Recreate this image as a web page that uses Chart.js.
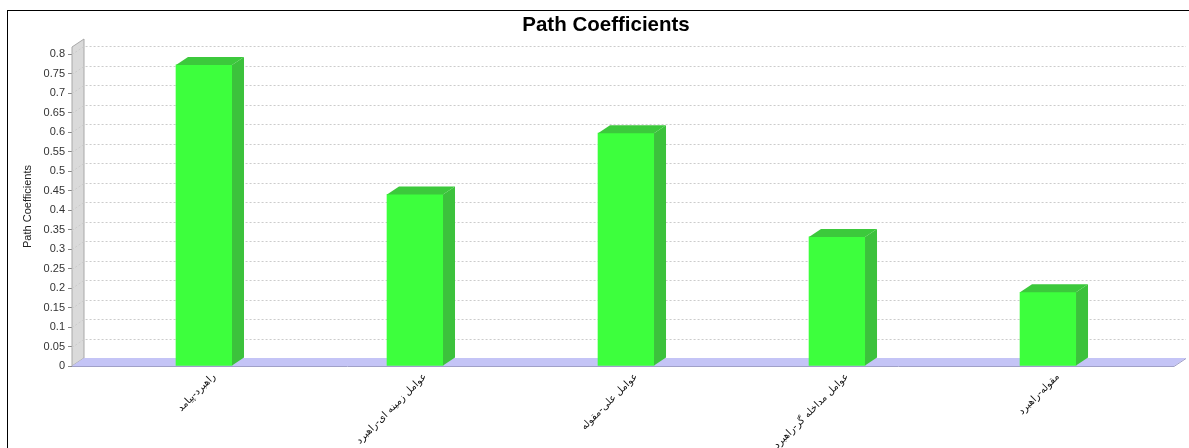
<!DOCTYPE html>
<html>
<head>
<meta charset="utf-8">
<script src="https://cdn.jsdelivr.net/npm/chart.js@4/dist/chart.umd.min.js"></script>
<style>
  html, body { margin: 0; padding: 0; background: #ffffff; }
  canvas { display: block; }
</style>
</head>
<body>
<canvas id="chart" width="1189" height="448"></canvas>
<script>
// Path links (category labels) and their coefficients
const categories = [
  'راهبرد-پیامد',
  'عوامل زمینه ای-راهبرد',
  'عوامل علی-مقوله',
  'عوامل مداخله گر-راهبرد',
  'مقوله-راهبرد'
];
const pathCoefficients = [0.772, 0.44, 0.597, 0.331, 0.189];

// Value axis ticks
const yTickValues = [0, 0.05, 0.1, 0.15, 0.2, 0.25, 0.3, 0.35, 0.4, 0.45, 0.5, 0.55, 0.6, 0.65, 0.7, 0.75, 0.8];
const yTickLabels = ['0', '0.05', '0.1', '0.15', '0.2', '0.25', '0.3', '0.35', '0.4', '0.45', '0.5', '0.55', '0.6', '0.65', '0.7', '0.75', '0.8'];

const chartTitle = 'Path Coefficients';
const axisTitle = 'Path Coefficients';

// depth of the pseudo-3D extrusion
const DX = 12, DY = 8;

const COLORS = {
  front: '#3dff3d',
  side: '#3cc23c',
  top: '#3cc93c',
  wall: '#dadada',
  wallEdge: '#a8a8a8',
  floor: '#c4c4f6',
  floorEdge: '#a0a0c8',
  grid: '#cccccc'
};

const scene3d = {
  id: 'scene3d',
  beforeDraw(chart) {
    const ctx = chart.ctx;
    ctx.save();
    ctx.fillStyle = '#ffffff';
    ctx.fillRect(0, 0, chart.width, chart.height);
    // outer frame
    ctx.strokeStyle = '#000000';
    ctx.lineWidth = 1;
    ctx.strokeRect(7.5, 10.5, chart.width + 10, chart.height + 10);
    // chart title
    ctx.fillStyle = '#000000';
    ctx.font = 'bold 20.5px "Liberation Sans", Arial, sans-serif';
    ctx.textAlign = 'center';
    ctx.textBaseline = 'alphabetic';
    ctx.fillText(chartTitle, 606, 31);
    ctx.restore();
  },
  beforeDatasetsDraw(chart) {
    const ctx = chart.ctx;
    const a = chart.chartArea;
    const y = chart.scales.y;
    ctx.save();
    // left wall
    ctx.beginPath();
    ctx.moveTo(a.left, a.bottom);
    ctx.lineTo(a.left, a.top);
    ctx.lineTo(a.left + DX, a.top - DY);
    ctx.lineTo(a.left + DX, a.bottom - DY);
    ctx.closePath();
    ctx.fillStyle = COLORS.wall;
    ctx.fill();
    ctx.strokeStyle = COLORS.wallEdge;
    ctx.lineWidth = 1;
    ctx.stroke();
    // floor
    ctx.beginPath();
    ctx.moveTo(a.left, a.bottom);
    ctx.lineTo(a.right, a.bottom);
    ctx.lineTo(a.right + DX, a.bottom - DY);
    ctx.lineTo(a.left + DX, a.bottom - DY);
    ctx.closePath();
    ctx.fillStyle = COLORS.floor;
    ctx.fill();
    ctx.strokeStyle = COLORS.floorEdge;
    ctx.beginPath();
    ctx.moveTo(a.left, a.bottom + 0.5);
    ctx.lineTo(a.right, a.bottom + 0.5);
    ctx.lineTo(a.right + DX, a.bottom - DY + 0.5);
    ctx.stroke();
    // grid lines on the back plane and across the wall
    ctx.strokeStyle = COLORS.grid;
    ctx.setLineDash([2, 2]);
    y.ticks.forEach(t => {
      if (t.value === 0) return;
      const py = Math.round(y.getPixelForValue(t.value)) + 0.5;
      ctx.beginPath();
      ctx.moveTo(a.left, py);
      ctx.lineTo(a.left + DX, py - DY);
      ctx.lineTo(a.right + DX, py - DY);
      ctx.stroke();
    });
    ctx.setLineDash([]);
    ctx.restore();
  },
  afterDatasetsDraw(chart) {
    const ctx = chart.ctx;
    const meta = chart.getDatasetMeta(0);
    ctx.save();
    meta.data.forEach(bar => {
      const p = bar.getProps(['x', 'y', 'base', 'width'], true);
      const l = p.x - p.width / 2, r = p.x + p.width / 2;
      // side face
      ctx.beginPath();
      ctx.moveTo(r, p.y);
      ctx.lineTo(r + DX, p.y - DY);
      ctx.lineTo(r + DX, p.base - DY);
      ctx.lineTo(r, p.base);
      ctx.closePath();
      ctx.fillStyle = COLORS.side;
      ctx.fill();
      // top face
      ctx.beginPath();
      ctx.moveTo(l, p.y);
      ctx.lineTo(l + DX, p.y - DY);
      ctx.lineTo(r + DX, p.y - DY);
      ctx.lineTo(r, p.y);
      ctx.closePath();
      ctx.fillStyle = COLORS.top;
      ctx.fill();
    });
    ctx.restore();
  }
};

new Chart(document.getElementById('chart'), {
  type: 'bar',
  data: {
    datasets: [{
      label: chartTitle,
      data: pathCoefficients.map((v, i) => ({ x: i, y: v })),
      backgroundColor: COLORS.front,
      borderWidth: 0,
      barThickness: 56
    }]
  },
  options: {
    responsive: false,
    animation: false,
    layout: { padding: { top: 47, right: 15, bottom: 0, left: 0 } },
    plugins: {
      legend: { display: false },
      title: { display: false },
      tooltip: { enabled: false }
    },
    scales: {
      x: {
        type: 'linear',
        offset: false,
        bounds: 'data',
        min: -0.6256,
        max: 4.597,
        afterFit(s) { s.height = 82; },
        afterBuildTicks(s) { s.ticks = categories.map((_, i) => ({ value: i })); },
        ticks: {
          autoSkip: false,
          minRotation: 45,
          maxRotation: 45,
          padding: 5,
          labelOffset: 10,
          color: '#111111',
          font: { family: '"DejaVu Sans", sans-serif', size: 10 },
          callback: v => categories[v]
        },
        grid: { display: false, drawTicks: false, offset: false },
        border: { display: false }
      },
      y: {
        min: 0,
        max: 0.818,
        afterFit(s) { s.width = 72; },
        afterBuildTicks(s) { s.ticks = yTickValues.map(v => ({ value: v })); },
        ticks: {
          padding: 3,
          color: '#333333',
          font: { family: '"Liberation Sans", Arial, sans-serif', size: 11 },
          callback: (v, i) => yTickLabels[i]
        },
        grid: { drawOnChartArea: false, tickLength: 4, color: '#888888' },
        border: { display: false },
        title: {
          display: true,
          text: axisTitle,
          color: '#222222',
          font: { family: '"Liberation Sans", Arial, sans-serif', size: 11 },
          padding: { top: 21, bottom: 0 }
        }
      }
    }
  },
  plugins: [scene3d]
});
</script>
</body>
</html>
